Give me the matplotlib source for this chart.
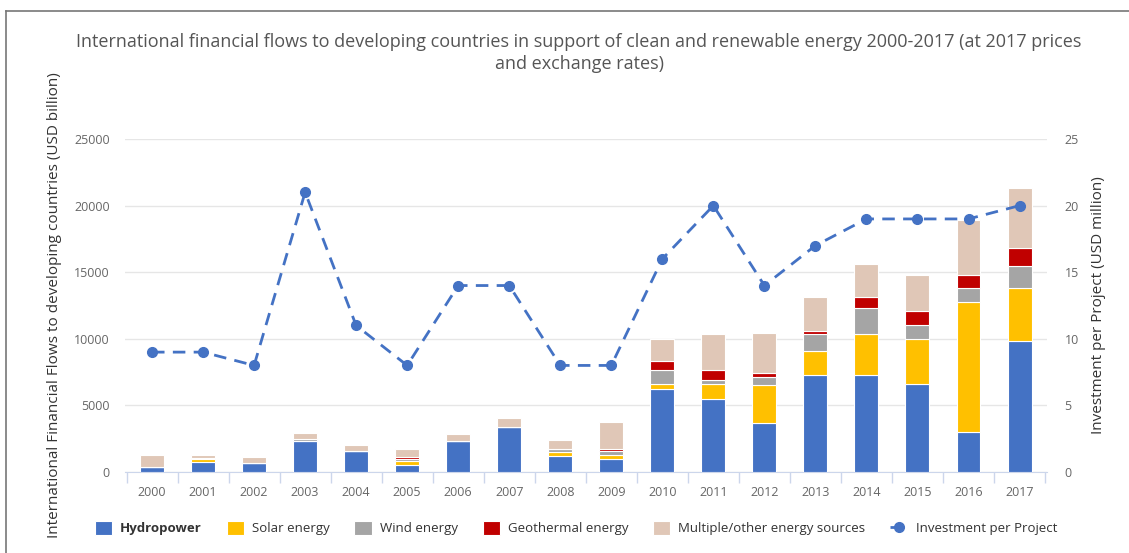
import matplotlib.pyplot as plt
import numpy as np

plt.rcParams["font.family"] = ["Open Sans", "DejaVu Sans"]

years = [str(y) for y in range(2000, 2018)]

# USD billion (axis as labelled)
hydro = [350, 750, 680, 2300, 1550, 550, 2300, 3350, 1200, 1000,
         6200, 5450, 3650, 7300, 7300, 6600, 3000, 9850]
solar = [0, 250, 0, 50, 0, 250, 0, 0, 300, 300,
         400, 1150, 2850, 1800, 3050, 3400, 9800, 4000]
wind = [0, 50, 0, 150, 50, 150, 50, 50, 200, 250,
        1050, 300, 650, 1250, 2000, 1000, 1000, 1600]
geothermal = [0, 0, 0, 0, 0, 150, 0, 0, 50, 200,
              650, 750, 300, 250, 800, 1100, 1000, 1350]
multiple = [950, 250, 420, 430, 400, 630, 530, 630, 630, 1980,
            1700, 2700, 2950, 2550, 2500, 2700, 4100, 4550]

# USD million, right axis
investment = [9, 9, 8, 21, 11, 8, 14, 14, 8, 8, 16, 20, 14, 17, 19, 19, 19, 20]

series = [
    ("Hydropower", hydro, "#4472c4"),
    ("Solar energy", solar, "#ffc000"),
    ("Wind energy", wind, "#a5a5a5"),
    ("Geothermal energy", geothermal, "#c00000"),
    ("Multiple/other energy sources", multiple, "#e0c7b7"),
]

txt = "#666666"
fig = plt.figure(figsize=(11.29, 5.53), dpi=100)
ax = fig.add_axes([0.1107, 0.1465, 0.8163, 0.6021])
x = np.arange(len(years))

bottom = np.zeros(len(years))
handles = []
for name, vals, col in series:
    b = ax.bar(x, vals, 0.47, bottom=bottom, color=col, edgecolor="white",
               linewidth=0.8, label=name, zorder=3)
    handles.append(b)
    bottom += np.array(vals)

ax.set_xlim(-0.53, len(years) - 0.47)
ax.set_ylim(0, 25000)
ax.set_yticks(range(0, 25001, 5000))
ax.grid(axis="y", color="#e6e6e6", linewidth=1, zorder=0)
ax.set_xticks(x)
ax.set_xticklabels(years)
ax.set_xticks(np.arange(-0.5, len(years), 1), minor=True)
ax.tick_params(axis="x", which="major", length=0, pad=10, labelsize=9, labelcolor=txt)
ax.tick_params(axis="x", which="minor", length=8, color="#ccd6eb", width=1)
ax.tick_params(axis="y", length=0, labelsize=9, labelcolor=txt, pad=11)
for s in ["top", "right", "left"]:
    ax.spines[s].set_visible(False)
ax.spines["bottom"].set_color("#ccd6eb")
ax.set_ylabel("International Financial Flows to developing countries (USD billion)",
              fontsize=11, color="#333333", labelpad=9)

ax2 = ax.twinx()
line, = ax2.plot(x, investment, color="#4472c4", linestyle=(0, (4.5, 3)),
                 linewidth=2, marker="o", markersize=7, label="Investment per Project",
                 zorder=5)
ax2.set_ylim(0, 25)
ax2.set_yticks(range(0, 26, 5))
ax2.tick_params(axis="y", length=0, labelsize=9, labelcolor=txt, pad=13)
for s in ax2.spines.values():
    s.set_visible(False)
ax2.set_ylabel("Investment per Project (USD million)", fontsize=11, color="#333333",
               labelpad=9)

fig.text(0.513, 0.940,
         "International financial flows to developing countries in support of clean and renewable energy 2000-2017 (at 2017 prices\nand exchange rates)",
         ha="center", va="top", fontsize=13, color="#555555", linespacing=1.3)

leg = fig.legend(handles + [line], [h.get_label() for h in handles] + [line.get_label()],
                 loc="center", bbox_to_anchor=(0.51, 0.045), ncol=6, frameon=False,
                 fontsize=9.5, handlelength=1.3, handleheight=1.3, columnspacing=1.9,
                 handletextpad=0.6)
for t in leg.get_texts():
    t.set_color("#333333")
leg.get_texts()[0].set_fontweight("bold")

# outer frame lines (top and left)
fig.add_artist(plt.Line2D([0.005, 1.0], [0.98, 0.98], color="#777777", linewidth=1.2))
fig.add_artist(plt.Line2D([0.005, 0.005], [0.0, 0.98], color="#777777", linewidth=1.2))

fig.savefig("out.png", dpi=100)
